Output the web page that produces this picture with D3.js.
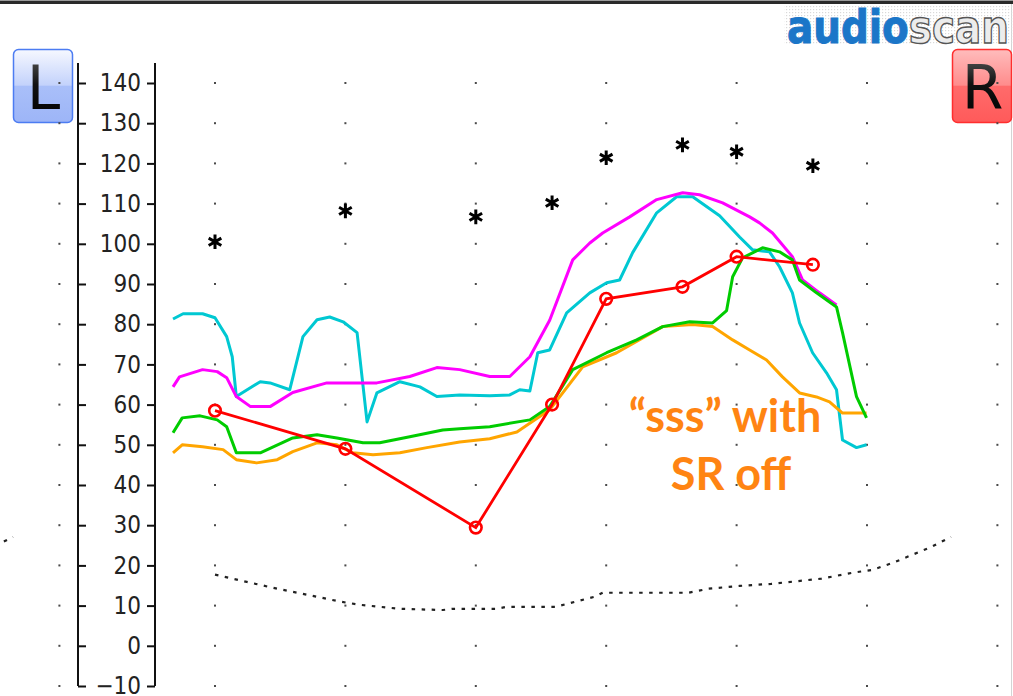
<!DOCTYPE html>
<html>
<head>
<meta charset="utf-8">
<script src="https://cdn.jsdelivr.net/npm/d3@7"></script>
<style>
  html, body { margin: 0; padding: 0; background: #fff; overflow: hidden; }
  svg { display: block; }
</style>
</head>
<body>
<svg id="chart" width="1013" height="696"></svg>
<script>
// ---- data: [frequency Hz, level dB SPL] ----
const gridFreqs = [250, 500, 1000, 2000, 4000, 8000, 16000];
const dbTicks = [-10, 0, 10, 20, 30, 40, 50, 60, 70, 80, 90, 100, 110, 120, 130, 140];

const ucl = [[250, 100.5], [500, 108.2], [1000, 106.7], [1500, 110.2], [2000, 121.4], [3000, 124.6], [4000, 122.9], [6000, 119.4]];

const threshold = [[250, 17.7], [296, 15.9], [348, 14.2], [408, 12.7], [486, 11], [540, 10.2], [668, 9.2], [839, 8.9],
  [885, 9.2], [953, 9.2], [1118, 9.2], [1179, 9.7], [1530, 9.7], [1701, 11], [1882, 12.2], [1963, 13.2], [3100, 13.2],
  [3446, 14.2], [4064, 14.9], [4802, 15.4], [6281, 16.7], [7433, 18.2], [8240, 18.9], [9158, 20.6], [10160, 22.6],
  [11266, 24.6], [12500, 27.1]];

const cyanCurve = [[200, 81.3], [211, 82.6], [234, 82.6], [250, 81.6], [266, 76.9], [274, 71.9], [280, 62], [318, 65.7],
  [335, 65.4], [372, 63.7], [399, 76.9], [430, 81.1], [460, 81.8], [494, 80.6], [532, 77.9], [561, 55.7], [591, 62.9],
  [668, 65.7], [743, 64.4], [813, 62], [918, 62.4], [1077, 62.2], [1198, 62.4], [1263, 63.7], [1333, 63.4], [1390, 72.9],
  [1481, 73.6], [1621, 82.8], [1833, 87.8], [2005, 90.3], [2148, 91], [2302, 97.8], [2616, 107.7], [2908, 111.7],
  [3167, 111.7], [3655, 107], [4064, 101.7], [4355, 98.5], [4765, 98], [5025, 94.3], [5381, 87.8], [5590, 80.3],
  [5990, 72.9], [6451, 67.9], [6803, 63.7], [7024, 51.2], [7566, 49.3], [7980, 50]];

const magentaCurve = [[200, 64.4], [207, 66.9], [234, 68.7], [253, 68.2], [266, 66.7], [280, 62], [302, 59.5], [335, 59.5],
  [378, 63], [453, 65.4], [591, 65.4], [704, 67], [813, 69.2], [918, 68.7], [1077, 67], [1198, 67], [1333, 71.9],
  [1481, 81], [1674, 96], [1833, 100.2], [1963, 102.7], [2266, 106.7], [2616, 111], [3003, 112.7], [3285, 112.2],
  [3714, 110.2], [4287, 106.7], [4518, 105.2], [4841, 102.7], [5381, 96.8], [5681, 91], [6216, 87.8], [6803, 84.8]];

const orangeCurve = [[200, 48], [210, 50], [234, 49.5], [261, 48.8], [280, 46.3], [312, 45.5], [348, 46.3], [378, 48.3],
  [430, 50.5], [478, 50], [520, 48], [579, 47.5], [668, 48], [771, 49.3], [918, 50.7], [1077, 51.5], [1244, 53.2],
  [1481, 58.7], [1765, 69.4], [2114, 72.9], [2700, 79.4], [3167, 79.9], [3521, 79.4], [3917, 76.1], [4287, 73.6],
  [4690, 71.1], [5104, 66.9], [5590, 62.9], [6117, 61.9], [6556, 60.7], [7024, 57.9], [7980, 57.9]];

const greenCurve = [[200, 53], [210, 56.7], [231, 57.2], [253, 56.2], [266, 54.5], [280, 48], [318, 48], [378, 51.7],
  [430, 52.5], [478, 51.7], [549, 50.5], [600, 50.5], [704, 52], [839, 53.7], [918, 54], [1077, 54.5], [1333, 56.2],
  [1481, 59.5], [1674, 68.7], [2005, 72.9], [2352, 76.1], [2700, 79.4], [3117, 80.6], [3521, 80.3], [3793, 83.4],
  [3917, 91.8], [4129, 96.5], [4591, 99], [5025, 98], [5381, 96], [5590, 91], [6117, 87.8], [6803, 84.3], [7024, 77.9],
  [7566, 62], [7980, 56.7]];

const measured = [[250, 58.5], [500, 49], [1000, 29.4], [1500, 60], [2000, 86.3], [3000, 89.3], [4000, 96.8], [6000, 94.8]];

const noteLines = ["\u201Csss\u201D with", "SR off"];

// ---- scales ----
const W = 1013, H = 696;
const x = d3.scaleLog().domain([250, 8000]).range([215, 867]);
// the left-ear panel sits one panel width further left
const panelShift = 938;
const xLeft = d3.scaleLog().domain([250, 8000]).range([215 - panelShift, 867 - panelShift]);
const y = d3.scaleLinear().domain([-10, 140]).range([686, 83]);

const svg = d3.select("#chart");
const defs = svg.append("defs");

// ---- frame ----
svg.append("line").attr("x1", 0).attr("x2", W).attr("y1", 0.5).attr("y2", 0.5).attr("stroke", "#9a9a9a").attr("stroke-width", 1);
svg.append("line").attr("x1", 0).attr("x2", W).attr("y1", 2.5).attr("y2", 2.5).attr("stroke", "#2a2a2a").attr("stroke-width", 3);
svg.append("line").attr("x1", W - 1.5).attr("x2", W - 1.5).attr("y1", 4).attr("y2", H).attr("stroke", "#d4d4d4").attr("stroke-width", 1);

// ---- logo ----
const dots = defs.append("pattern").attr("id", "halftone").attr("width", 3).attr("height", 3).attr("patternUnits", "userSpaceOnUse");
dots.append("rect").attr("width", 1.2).attr("height", 1.2).attr("fill", "#d9d9d9");
svg.append("rect").attr("x", 784).attr("y", 5).attr("width", 229).attr("height", 40).attr("fill", "url(#halftone)");
const logo = svg.append("g").attr("transform", "translate(787,43) scale(1,1.3)")
  .append("text")
  .attr("x", 0).attr("y", 0)
  .attr("textLength", 222).attr("lengthAdjust", "spacingAndGlyphs")
  .style("font-family", "'DejaVu Sans', sans-serif").style("font-weight", "bold").style("font-size", "35.5px");
logo.append("tspan").text("audio")
  .attr("fill", "#1b76c8").attr("stroke", "#1b76c8").attr("stroke-width", 0.8);
logo.append("tspan").text("scan")
  .attr("fill", "#ececec").attr("stroke", "#555").attr("stroke-width", 1.1);

// ---- ear buttons ----
function gradient(id, stops) {
  const g = defs.append("linearGradient").attr("id", id).attr("x1", 0).attr("x2", 0).attr("y1", 0).attr("y2", 1);
  stops.forEach(s => g.append("stop").attr("offset", s[0]).attr("stop-color", s[1]));
}
gradient("btnL", [[0, "#f6f8ff"], [0.49, "#c3d2fb"], [0.5, "#a9bff9"], [1, "#9db5f7"]]);
gradient("btnR", [[0, "#ffbcbc"], [0.49, "#ff8c8c"], [0.5, "#ff6b6b"], [1, "#ff5a5a"]]);
gradient("glyph", [[0, "#5a5a5a"], [0.45, "#111"], [1, "#000"]]);

const buttons = [
  { label: "L", x: 13.5, fill: "url(#btnL)", stroke: "#4c7cf2" },
  { label: "R", x: 952.5, fill: "url(#btnR)", stroke: "#ff2e2e" }
];
const btn = svg.selectAll("g.btn").data(buttons).join("g").attr("class", "btn");
btn.append("rect").attr("x", d => d.x).attr("y", 49.5).attr("width", 59).attr("height", 73).attr("rx", 5)
  .attr("fill", d => d.fill).attr("stroke", d => d.stroke).attr("stroke-width", 1.5);
btn.append("text").text(d => d.label)
  .attr("x", d => d.x + 30).attr("y", 109).attr("text-anchor", "middle")
  .style("font-family", "'DejaVu Sans', sans-serif").style("font-size", "60px")
  .attr("fill", "url(#glyph)");

// ---- grid dots ----
const gridPts = [];
gridFreqs.forEach(f => dbTicks.forEach(v => gridPts.push({ px: x(f), py: y(v) })));
dbTicks.forEach(v => gridPts.push({ px: xLeft(16000), py: y(v) }));
svg.append("g").selectAll("rect").data(gridPts).join("rect")
  .attr("x", d => d.px - 1).attr("y", d => d.py - 1).attr("width", 2).attr("height", 2).attr("fill", "#4a4a4a");

// ---- y axes (double rail) ----
const axisFont = "'DejaVu Sans Condensed', 'DejaVu Sans', sans-serif";
const railTop = y(145), railBottom = y(-10);
[78, 155].forEach(px => svg.append("line").attr("x1", px).attr("x2", px).attr("y1", railTop).attr("y2", railBottom)
  .attr("stroke", "#111").attr("stroke-width", 2));

const axL = svg.append("g").attr("transform", "translate(78,0)")
  .call(d3.axisRight(y).tickValues(dbTicks).tickSize(8).tickFormat(""));
const axR = svg.append("g").attr("transform", "translate(155,0)")
  .call(d3.axisLeft(y).tickValues(dbTicks).tickSize(8).tickPadding(6));
[axL, axR].forEach(a => {
  a.select(".domain").remove();
  a.selectAll(".tick line").attr("stroke", "#111").attr("stroke-width", 2);
  a.selectAll(".tick text").attr("fill", "#222").style("font-family", axisFont).style("font-size", "24px");
});

// ---- curves ----
const line = d3.line().x(d => x(d[0])).y(d => y(d[1]));
const lineLeft = d3.line().x(d => xLeft(d[0])).y(d => y(d[1]));

// threshold (dotted), plus the tail of the left-ear panel
defs.append("clipPath").attr("id", "leftPanel").append("rect").attr("x", 0).attr("y", 0).attr("width", 70).attr("height", H);
svg.append("path").datum(threshold).attr("d", lineLeft).attr("clip-path", "url(#leftPanel)")
  .attr("fill", "none").attr("stroke", "#222").attr("stroke-width", 2.2).attr("stroke-dasharray", "3.5,6.5");
svg.append("path").datum(threshold).attr("d", line)
  .attr("fill", "none").attr("stroke", "#222").attr("stroke-width", 2.2).attr("stroke-dasharray", "3.5,6.5");

const curves = [
  { data: cyanCurve, color: "#00c8d2" },
  { data: magentaCurve, color: "#ff00ff" },
  { data: orangeCurve, color: "#ffa500" },
  { data: greenCurve, color: "#00cc00" }
];
svg.append("g").selectAll("path").data(curves).join("path")
  .attr("d", d => line(d.data)).attr("fill", "none")
  .attr("stroke", d => d.color).attr("stroke-width", 3).attr("stroke-linejoin", "round");

// measured points (red)
svg.append("path").datum(measured).attr("d", line)
  .attr("fill", "none").attr("stroke", "#ff0000").attr("stroke-width", 2.8);
svg.append("g").selectAll("circle").data(measured).join("circle")
  .attr("cx", d => x(d[0])).attr("cy", d => y(d[1])).attr("r", 5.8)
  .attr("fill", "none").attr("stroke", "#ff0000").attr("stroke-width", 2.6);

// UCL asterisks
const star = d3.symbol(d3.symbolAsterisk, 150);
svg.append("g").selectAll("path").data(ucl).join("path")
  .attr("transform", d => `translate(${x(d[0])},${y(d[1])})`)
  .attr("d", star).attr("fill", "none").attr("stroke", "#000").attr("stroke-width", 3);

// ---- annotation ----
svg.append("g").selectAll("text").data(noteLines).join("text")
  .text(d => d)
  .attr("x", (d, i) => i === 0 ? 725 : 731)
  .attr("y", (d, i) => i === 0 ? 432 : 490)
  .attr("text-anchor", "middle")
  .style("font-family", "Lato, 'Open Sans', sans-serif").style("font-weight", "bold").style("font-size", "45px")
  .attr("fill", "#ff8412");
</script>
</body>
</html>
